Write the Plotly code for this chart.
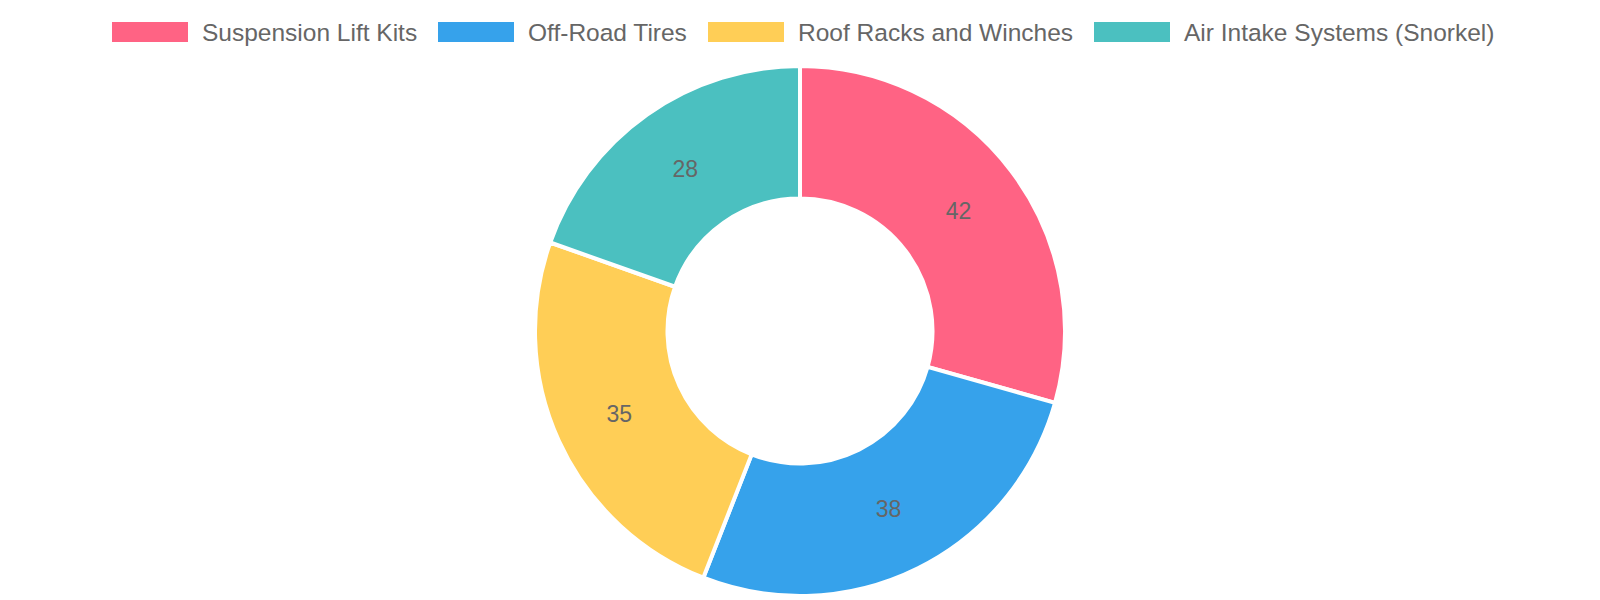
import plotly.graph_objects as go

# chart data
categories = ["Suspension Lift Kits", "Off-Road Tires", "Roof Racks and Winches", "Air Intake Systems (Snorkel)"]
values = [42, 38, 35, 28]
colors = ["#FF6384", "#36A2EB", "#FFCE56", "#4BC0C0"]

W, H = 1600, 600
FONT = "Liberation Sans, Arial, Helvetica, sans-serif"
TEXT_COLOR = "#666666"

# legend layout (pixels): left edge of each colour box
legend_box_x = [112, 438, 708, 1094]
box_w, box_h = 76, 20
legend_cy = 32

# donut geometry (pixels)
cx, cy, r = 800, 331, 265

fig = go.Figure(
    go.Pie(
        labels=categories,
        values=values,
        marker=dict(colors=colors, line=dict(color="white", width=4)),
        hole=0.5,
        sort=False,
        direction="clockwise",
        rotation=0,
        textinfo="value",
        textposition="inside",
        insidetextorientation="horizontal",
        textfont=dict(family=FONT, size=23, color=TEXT_COLOR),
        hoverinfo="label+value",
        showlegend=False,
        domain=dict(x=[(cx - r) / W, (cx + r) / W], y=[1 - (cy + r) / H, 1 - (cy - r) / H]),
    )
)

# custom legend: wide colour boxes + text, like the original
shapes = []
annotations = []
for x0, name, col in zip(legend_box_x, categories, colors):
    shapes.append(dict(
        type="rect", xref="paper", yref="paper",
        x0=x0 / W, x1=(x0 + box_w) / W,
        y0=1 - (legend_cy + box_h / 2) / H, y1=1 - (legend_cy - box_h / 2) / H,
        fillcolor=col, line=dict(width=0),
    ))
    annotations.append(dict(
        text=name, xref="paper", yref="paper",
        x=(x0 + box_w + 12) / W, y=1 - legend_cy / H,
        xanchor="left", yanchor="middle", showarrow=False,
        font=dict(family=FONT, size=24.5, color=TEXT_COLOR),
    ))

fig.update_layout(
    width=W,
    height=H,
    margin=dict(l=0, r=0, t=0, b=0),
    paper_bgcolor="white",
    plot_bgcolor="white",
    shapes=shapes,
    annotations=annotations,
    font=dict(family=FONT, color=TEXT_COLOR),
)

fig.write_html(
    "out.html",
    config={"displayModeBar": False},
    post_script="document.body.style.margin='0';document.body.style.overflow='hidden';",
)
